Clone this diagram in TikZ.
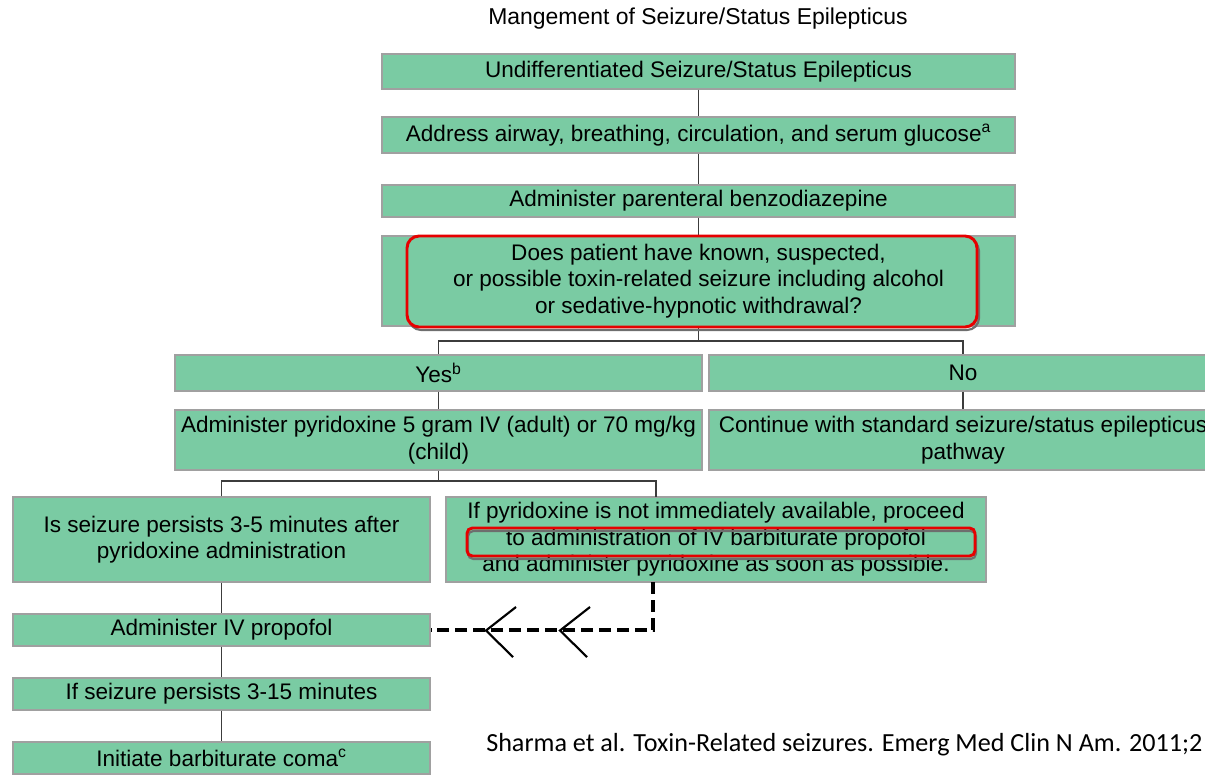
\documentclass[tikz,border=0pt]{standalone}
\usepackage{fontspec}
\setmainfont{Liberation Sans}
\newfontfamily\citefont{Carlito}
\definecolor{boxgreen}{RGB}{122,203,163}
\definecolor{boxedge}{RGB}{160,160,160}
\definecolor{linkgray}{RGB}{60,60,60}
\definecolor{markred}{RGB}{230,0,0}
\definecolor{shadowgray}{RGB}{110,110,110}
\tikzset{
  stepbox/.style 2 args={draw=boxedge, line width=0.9pt, fill=boxgreen, align=center,
    inner sep=0pt, minimum width=#1*0.75pt, minimum height=#2*0.75pt,
    font=\fontsize{16.9}{19.9}\selectfont},
  link/.style={draw=linkgray, line width=1pt},
  dashlink/.style={line width=2.5pt, dash pattern=on 9pt off 4.5pt},
  chevron/.style={line width=1.6pt},
  markbox/.style={draw=markred, line width=2.2pt},
  markshadow/.style={draw=shadowgray, line width=1.6pt}
}
\begin{document}
\begin{tikzpicture}[x=0.75pt, y=-0.75pt]
\useasboundingbox (0,0) rectangle (1205,774);
\clip (0,0) rectangle (1205,774);

\node[font=\fontsize{17.2}{20}\selectfont] (title) at (698,19) {Mangement of Seizure/Status Epilepticus};

\node[stepbox={633}{35}] (start) at (698.5,71.5) {Undifferentiated Seizure/Status Epilepticus};
\node[stepbox={633}{36}] (abc) at (698.5,135) {Address airway, breathing, circulation, and serum glucose\textsuperscript{a}};
\node[stepbox={633}{32}] (benzo) at (698.5,201) {Administer parenteral benzodiazepine};
\node[stepbox={633}{90}] (toxin) at (698.5,281) {Does patient have known, suspected,\\or possible toxin-related seizure including alcohol\\or sedative-hypnotic withdrawal?};

\node[stepbox={527}{36}] (yes) at (438.5,373) {Yes\textsuperscript{b}};
\node[stepbox={508}{36}] (no) at (963,373) {No};
\node[stepbox={527}{60}] (pyridox) at (438.5,440) {Administer pyridoxine 5 gram IV (adult) or 70 mg/kg\\(child)};
\node[stepbox={508}{60}] (standard) at (963,440) {Continue with standard seizure/status epilepticus\\pathway};

\node[stepbox={417}{85}] (persist) at (221.5,539.5) {Is seizure persists 3-5 minutes after\\pyridoxine administration};
\node[stepbox={540}{85}] (unavail) at (716,539.5) {If pyridoxine is not immediately available, proceed\\to administration of IV barbiturate propofol\\and administer pyridoxine as soon as possible.};

\node[stepbox={417}{32}] (propofol) at (221.5,630) {Administer IV propofol};
\node[stepbox={417}{32}] (persistlong) at (221.5,694) {If seizure persists 3-15 minutes};
\node[stepbox={417}{32}] (coma) at (221.5,758) {Initiate barbiturate coma\textsuperscript{c}};

\node[anchor=west, inner sep=0pt, font=\citefont\fontsize{19.6}{23}\selectfont] (cite) at (486,745)
  {Sharma et al. Toxin-Related seizures. Emerg Med Clin N Am. 2011;2};

% connectors
\draw[link] (start) -- (abc);
\draw[link] (abc) -- (benzo);
\draw[link] (benzo) -- (toxin);
\coordinate (toxsplit) at (698.5,341);
\draw[link] (toxin) -- (toxsplit);
\draw[link] (yes.north) |- (toxsplit) -| (no.north);
\draw[link] (yes) -- (pyridox);
\draw[link] (no) -- (standard);
\coordinate (pyrsplit) at (438.5,481);
\coordinate (unavailin) at (656,497);
\draw[link] (pyridox) -- (pyrsplit);
\draw[link] (persist.north) |- (pyrsplit) -| (unavailin);
\draw[link] (persist) -- (propofol);
\draw[link] (propofol) -- (persistlong);
\draw[link] (persistlong) -- (coma);

% dashed fallback with open chevrons
\coordinate (unavailout) at (653,582);
\draw[dashlink] (unavailout) |- (propofol.east);
\foreach \tx in {486,560}
  \draw[chevron] (\tx+30,607) -- (\tx,630.5) -- (\tx+27,657);

% red highlights
\draw[markshadow, rounded corners=9pt] (409,239) rectangle (979,330);
\draw[markbox, fill=boxgreen, rounded corners=9pt] (407,236) rectangle (977,327);
\node[font=\fontsize{16.9}{19.9}\selectfont, align=center] at (698.5,281) {Does patient have known, suspected,\\or possible toxin-related seizure including alcohol\\or sedative-hypnotic withdrawal?};
\draw[markshadow, rounded corners=4pt] (468,531) rectangle (976,559);
\draw[markbox, rounded corners=4pt] (467,528) rectangle (975,556);
\end{tikzpicture}
\end{document}
